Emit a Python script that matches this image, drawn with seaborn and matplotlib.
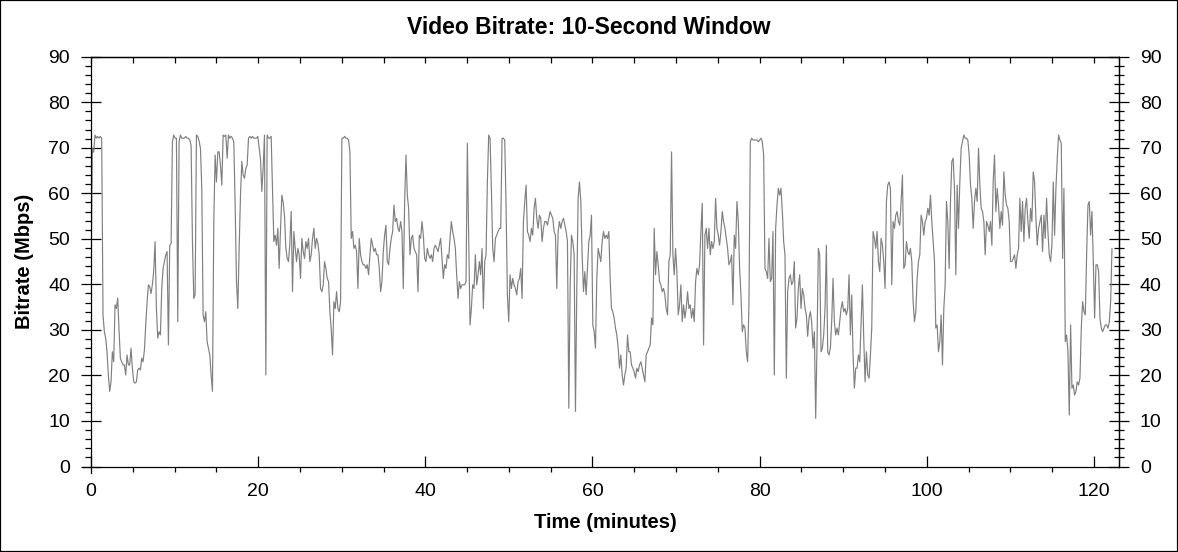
import numpy as np
import pandas as pd
import matplotlib
matplotlib.use("Agg")
import matplotlib.pyplot as plt
import seaborn as sns
from matplotlib.ticker import MultipleLocator
from matplotlib.patches import Rectangle

sns.set_theme(style="ticks")
plt.rcParams['font.family'] = ['Liberation Sans', 'DejaVu Sans']

TITLE = "Video Bitrate: 10-Second Window"
X_LABEL = "Time (minutes)"
Y_LABEL = "Bitrate (Mbps)"

# sampling interval of the 10-second window trace, in minutes
SAMPLE_STEP_MIN = 0.1597
segment_start_min = [0.0, 19.64, 40.08, 60.36, 80.80, 101.08]

bitrate_part1 = [
    40.6, 69.9, 69.0, 72.8, 72.1, 72.5, 72.1, 72.5, 72.1, 33.3,
    29.6, 28.2, 25.2, 20.1, 16.5, 18.6, 25.2, 23.0, 35.5, 34.7,
    37.0, 30.0, 23.8, 23.0, 22.3, 22.3, 20.1, 24.5, 22.3, 22.3,
    26.0, 21.6, 18.6, 18.3, 18.6, 21.2, 21.6, 21.2, 23.8, 23.0,
    25.5, 31.0, 36.0, 39.9, 39.5, 38.0, 40.0, 43.0, 49.4, 34.7,
    28.2, 29.6, 28.9, 39.1, 43.5, 45.0, 46.5, 47.2, 26.7, 48.5,
    49.0, 71.3, 72.8, 72.1, 72.1, 31.8, 71.3, 72.8, 72.1, 72.1,
    72.1, 72.5, 72.1, 72.1, 71.7, 70.5, 49.4, 36.9, 37.7, 72.8,
    72.5, 71.5, 69.9, 61.1, 33.3, 31.8, 34.0, 27.4, 26.0, 24.5,
    20.1, 16.5, 53.8, 68.4, 62.5, 69.1, 69.1, 66.2, 61.8, 72.8,
    72.5, 72.8, 67.7, 72.8, 72.1, 72.5, 72.1, 71.3, 57.4, 40.6,
    34.7, 47.9, 59.6, 67.0, 64.0, 63.3, 65.5, 66.2, 72.1, 72.5,
    72.1, 72.5, 72.1,
]

bitrate_part2 = [
    72.1, 72.1, 72.5, 70.0, 67.5, 60.4, 65.5, 72.8, 20.1, 72.8,
    72.1, 72.1, 72.5, 61.1, 49.4, 50.8, 48.6, 52.3, 43.5, 52.0,
    59.6, 58.0, 55.0, 48.0, 45.7, 45.0, 49.0, 56.0, 38.4, 51.6,
    48.0, 45.0, 47.9, 46.5, 41.3, 50.1, 47.2, 45.7, 49.4, 47.9,
    50.1, 45.0, 46.5, 50.1, 52.3, 47.9, 50.1, 49.0, 46.5, 39.1,
    38.4, 39.9, 45.0, 43.5, 41.3, 40.6, 34.0, 30.0, 24.5, 36.2,
    34.7, 38.4, 34.7, 34.0, 36.2, 72.1, 72.1, 72.5, 72.1, 72.1,
    71.7, 69.1, 50.1, 51.6, 47.9, 48.6, 47.2, 39.1, 50.1, 46.5,
    45.0, 44.3, 44.3, 43.5, 44.3, 42.1, 46.5, 50.1, 48.6, 47.2,
    47.9, 46.5, 46.5, 43.5, 38.4, 40.6, 47.2, 50.8, 53.0, 45.0,
    44.3, 47.9, 50.1, 51.6, 57.4, 53.8, 54.5, 52.3, 51.6, 53.8,
    51.6, 39.1, 58.2, 68.4, 59.6, 56.7, 46.5, 50.1, 50.8, 47.9,
    47.2, 46.5, 38.4, 50.8, 50.1, 53.8, 50.8, 45.7,
]

bitrate_part3 = [
    45.0, 47.9, 46.5, 45.7, 46.5, 45.0, 47.9, 48.6, 47.9, 47.2,
    48.6, 50.1, 45.7, 41.3, 44.3, 43.5, 46.5, 45.7, 50.1, 53.8,
    51.6, 50.1, 47.9, 42.1, 36.9, 40.6, 39.1, 39.9, 39.9, 39.9,
    40.6, 71.0, 50.1, 31.1, 34.7, 39.9, 39.1, 46.5, 39.9, 42.1,
    45.0, 42.1, 47.9, 34.7, 45.0, 46.5, 62.5, 72.8, 72.1, 61.1,
    47.9, 45.0, 50.1, 50.8, 51.6, 52.3, 52.3, 72.1, 72.1, 71.7,
    57.4, 37.7, 31.8, 42.1, 39.1, 41.3, 39.9, 39.1, 37.7, 40.6,
    41.3, 43.5, 36.9, 53.8, 58.2, 61.8, 51.6, 50.8, 49.4, 52.3,
    50.8, 56.7, 58.9, 54.5, 52.3, 55.2, 54.5, 49.4, 52.3, 53.8,
    53.8, 53.0, 54.5, 56.0, 55.2, 54.5, 51.6, 50.8, 39.1, 51.6,
    53.8, 52.3, 53.8, 54.5, 53.0, 51.6, 49.4, 12.8, 39.1, 50.8,
    49.4, 46.5, 12.1, 39.1, 58.9, 62.5, 58.2, 46.5, 38.4, 42.8,
    37.7, 43.5, 49.4, 50.8, 55.2, 31.1, 29.6,
]

bitrate_part4 = [
    26.0, 41.3, 47.9, 46.5, 45.0, 49.4, 51.6, 50.1, 50.8, 50.1,
    51.6, 41.3, 34.7, 34.0, 32.6, 30.4, 28.9, 26.0, 21.6, 24.5,
    20.1, 17.9, 20.1, 21.6, 28.9, 25.2, 25.2, 22.3, 21.6, 20.8,
    19.4, 21.6, 20.8, 22.3, 23.0, 21.6, 20.1, 18.6, 24.5, 25.2,
    26.0, 26.7, 32.6, 31.1, 52.3, 42.1, 47.2, 44.3, 40.6, 39.9,
    38.4, 39.1, 37.7, 34.7, 33.3, 45.0, 46.5, 69.1, 46.5, 42.1,
    47.9, 42.8, 33.3, 35.5, 39.9, 31.8, 35.5, 32.6, 34.7, 38.4,
    34.7, 35.5, 32.6, 34.7, 31.8, 40.6, 43.5, 42.1, 44.3, 51.6,
    57.8, 26.7, 50.8, 52.3, 47.9, 52.3, 46.5, 49.4, 47.9, 49.4,
    58.9, 52.3, 50.8, 48.6, 51.6, 56.0, 53.8, 52.3, 50.1, 47.9,
    44.3, 45.0, 46.5, 35.5, 50.8, 47.9, 58.2, 53.8, 43.5, 37.7,
    29.6, 31.1, 30.4, 25.2, 23.0, 36.2, 71.3, 72.1, 71.7, 71.7,
    71.7, 71.7, 71.3, 71.7, 72.1, 71.3, 68.4, 43.5,
]

bitrate_part5 = [
    42.8, 41.3, 50.1, 40.6, 41.3, 51.6, 20.1, 52.3, 57.4, 61.1,
    59.6, 61.1, 56.0, 49.4, 46.5, 19.4, 38.4, 41.3, 42.1, 39.9,
    40.6, 45.0, 30.4, 32.6, 39.1, 42.1, 34.7, 39.1, 37.7, 34.7,
    33.3, 28.6, 32.6, 34.0, 31.8, 26.0, 29.6, 10.6, 27.0, 47.9,
    46.5, 25.2, 26.0, 28.9, 34.7, 48.6, 25.2, 24.5, 26.0, 31.8,
    41.3, 31.8, 28.9, 30.4, 28.9, 31.8, 34.7, 36.2, 34.0, 34.7,
    33.3, 34.7, 42.1, 28.9, 37.7, 24.5, 17.2, 21.6, 21.6, 24.5,
    23.0, 31.8, 39.9, 28.2, 18.6, 25.2, 20.1, 19.4, 24.5, 30.4,
    51.6, 50.1, 47.9, 51.6, 45.0, 42.8, 50.1, 48.6, 45.0, 39.1,
    58.2, 61.8, 62.5, 61.1, 39.9, 53.8, 52.3, 55.2, 56.0, 53.8,
    53.0, 58.2, 64.0, 43.5, 44.3, 49.4, 47.2, 46.5, 47.9, 45.0,
    36.2, 31.8, 34.0, 41.3, 45.0, 46.5, 55.2, 53.8, 50.8, 53.8,
    54.5, 56.7, 55.2, 59.6, 53.8, 49.4, 45.0,
]

bitrate_part6 = [
    30.4, 31.1, 25.2, 27.4, 33.3, 22.3, 34.7, 39.9, 58.2, 53.8,
    43.5, 58.2, 67.0, 67.7, 61.1, 42.1, 61.8, 52.3, 62.5, 69.9,
    71.3, 72.8, 72.1, 72.1, 71.7, 68.4, 61.8, 58.9, 52.3, 58.2,
    61.1, 58.2, 69.9, 61.8, 56.7, 56.0, 53.8, 46.5, 53.8, 53.0,
    51.6, 53.8, 48.6, 62.5, 68.4, 56.0, 61.1, 57.4, 52.3, 56.0,
    53.0, 64.7, 59.6, 57.4, 56.7, 53.8, 45.0, 45.0, 45.7, 46.5,
    43.5, 46.5, 47.9, 58.9, 51.6, 58.2, 49.4, 56.7, 58.9, 53.8,
    50.1, 56.7, 53.8, 64.7, 62.5, 54.5, 48.6, 52.3, 53.8, 55.2,
    47.2, 55.2, 50.1, 58.9, 51.6, 46.5, 45.0, 48.6, 62.5, 50.8,
    61.1, 67.7, 72.8, 71.7, 71.0, 45.7, 61.1, 27.4, 28.9, 25.2,
    11.3, 31.1, 17.2, 17.9, 15.7, 16.5, 18.6, 17.9, 19.4, 30.4,
    36.2, 34.0, 33.3, 46.5, 57.4, 58.2, 50.8, 56.0, 45.0, 32.6,
    44.3, 44.3, 42.8, 32.6, 30.4, 29.6, 30.4, 31.1, 31.1, 30.4,
    31.8, 36.2, 47.9,
]

parts = [bitrate_part1, bitrate_part2, bitrate_part3,
         bitrate_part4, bitrate_part5, bitrate_part6]

frames = []
for start, vals in zip(segment_start_min, parts):
    t = start + SAMPLE_STEP_MIN * np.arange(len(vals))
    frames.append(pd.DataFrame({"minutes": t, "mbps": vals}))
df = pd.concat(frames, ignore_index=True)

W, H = 1178, 552
fig = plt.figure(figsize=(W / 100, H / 100), dpi=100)
fig.patch.set_facecolor("white")
left_px, right_px, top_px, bottom_px = 91, 1119, 56.7, 466.5
ax = fig.add_axes([left_px / W, 1 - bottom_px / H,
                   (right_px - left_px) / W, (bottom_px - top_px) / H])
ax.set_facecolor("white")

sns.lineplot(data=df, x="minutes", y="mbps", ax=ax, color="#808080",
             linewidth=0.85, estimator=None, sort=False, legend=False)

ax.set_xlim(0, 123)
ax.set_ylim(0, 90)
ax.grid(False)

for s in ax.spines.values():
    s.set_color("black")
    s.set_linewidth(0.9)
ax.spines["left"].set_bounds(-1.5, 90)
ax.spines["bottom"].set_bounds(-0.95, 123)

TICK_FS = 14
ax.xaxis.set_major_locator(MultipleLocator(20))
ax.xaxis.set_minor_locator(MultipleLocator(5))
ax.yaxis.set_major_locator(MultipleLocator(10))
ax.yaxis.set_minor_locator(MultipleLocator(2))

ax.tick_params(axis="x", which="major", direction="in", length=8, width=0.9,
               color="black", labelcolor="black", labelsize=TICK_FS, pad=12,
               bottom=True, top=False)
ax.tick_params(axis="x", which="minor", direction="out", length=3.5, width=0.9,
               color="black", bottom=True, top=False)
ax.tick_params(axis="y", which="major", direction="inout", length=14, width=0.9,
               color="black", labelcolor="black", labelsize=TICK_FS, pad=8,
               left=True, right=False)
ax.tick_params(axis="y", which="minor", direction="out", length=4.3, width=0.9,
               color="black", left=True, right=False)

# mirrored right axis
sec_y = ax.secondary_yaxis("right")
sec_y.yaxis.set_major_locator(MultipleLocator(10))
sec_y.yaxis.set_minor_locator(MultipleLocator(2))
sec_y.tick_params(axis="y", which="major", direction="inout", length=14, width=0.9,
                  color="black", labelcolor="black", labelsize=TICK_FS, pad=8)
sec_y.tick_params(axis="y", which="minor", direction="inout", length=7, width=0.9,
                  color="black")
sec_y.spines["right"].set_color("black")
sec_y.spines["right"].set_linewidth(0.9)

# top axis ticks
sec_x = ax.secondary_xaxis("top")
sec_x.xaxis.set_major_locator(MultipleLocator(5))
sec_x.tick_params(axis="x", which="major", direction="in", length=4.5, width=0.9,
                  color="black", labeltop=False, labelbottom=False)
sec_x.spines["top"].set_color("black")
sec_x.spines["top"].set_linewidth(0.9)

ax.set_xlabel(X_LABEL, fontsize=14.5, fontweight="bold", color="black")
ax.set_ylabel(Y_LABEL, fontsize=14.5, fontweight="bold", color="black")
ax.xaxis.label.set_va("center")
ax.yaxis.label.set_va("center")
ax.xaxis.set_label_coords(0.5, -(522 - bottom_px) / (bottom_px - top_px))
ax.yaxis.set_label_coords(-(left_px - 25) / (right_px - left_px), 0.5)

fig.suptitle(TITLE, x=0.5, y=1 - 27 / H, va="center", ha="center",
             fontsize=16.5, fontweight="bold", color="black")

fig.add_artist(Rectangle((0, 0), 1, 1, transform=fig.transFigure, fill=False,
                         edgecolor="black", linewidth=1.6, clip_on=False))

fig.savefig("out.png", dpi=100, facecolor="white")
